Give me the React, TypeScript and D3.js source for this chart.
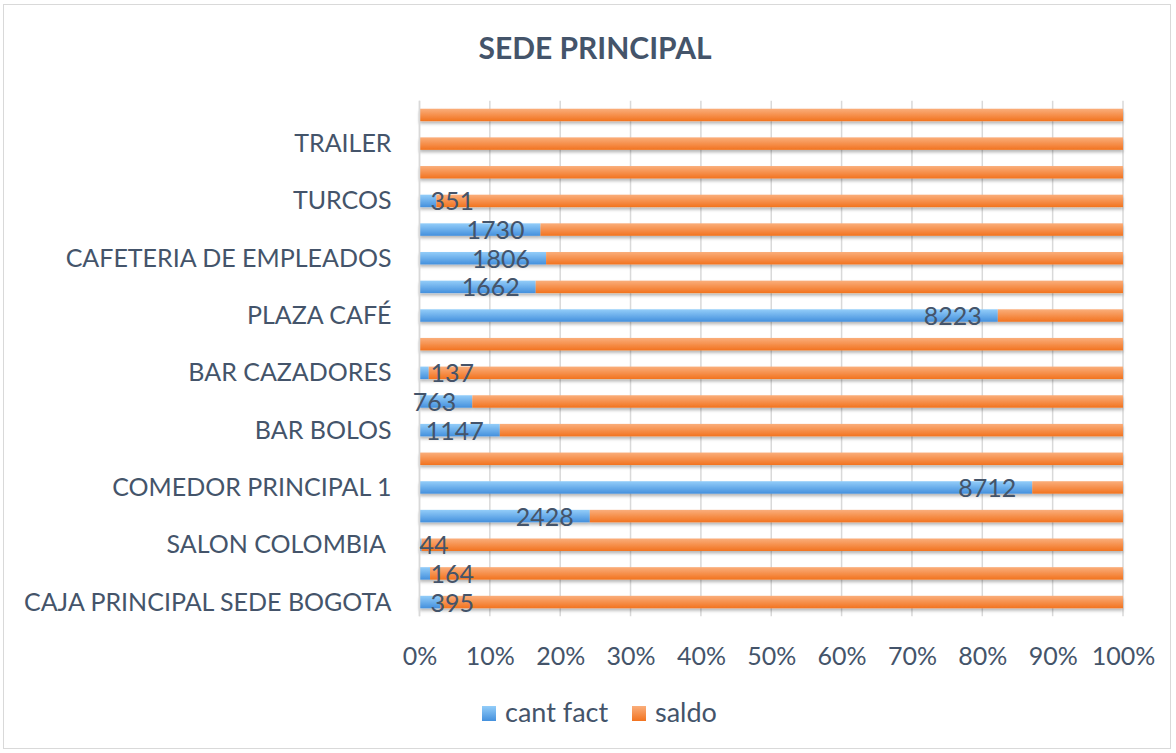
import React, { useEffect, useRef } from "react";
import * as d3 from "d3";

// rows listed bottom -> top; Excel shows every second category label
const categories: string[] = [
  "CAJA PRINCIPAL SEDE BOGOTA", "", "SALON COLOMBIA ", "", "COMEDOR PRINCIPAL 1", "",
  "BAR BOLOS", "", "BAR CAZADORES", "", "PLAZA CAFÉ", "",
  "CAFETERIA DE EMPLEADOS", "", "TURCOS", "", "TRAILER", "",
];
const cantFact: (number | null)[] = [
  395, 164, 44, 2428, 8712, null, 1147, 763, 137, null, 8223, 1662, 1806, 1730, 351, null, null, null,
];
const saldo: number[] = [
  12800, 10800, 14500, 7600, 1290, 9200, 8900, 9400, 10300, 8700, 1780, 8400, 8230, 8330, 14300, 9500, 7800, 8800,
];
const xTicks: number[] = [0, 0.1, 0.2, 0.3, 0.4, 0.5, 0.6, 0.7, 0.8, 0.9, 1];
const seriesNames: string[] = ["cant fact", "saldo"];
const title = "SEDE PRINCIPAL";

const W = 1176, H = 753;
const TXT = "#44546A";
const FONT = "Lato, 'Open Sans', sans-serif";

export default function App() {
  const ref = useRef<SVGSVGElement>(null);
  useEffect(() => {
    const svg = d3.select(ref.current);
    svg.selectAll("*").remove();

    const defs = svg.append("defs");
    const grad = (id: string, top: string, bot: string) => {
      const g = defs.append("linearGradient").attr("id", id).attr("x1", 0).attr("y1", 0).attr("x2", 0).attr("y2", 1);
      g.append("stop").attr("offset", "0%").attr("stop-color", top);
      g.append("stop").attr("offset", "100%").attr("stop-color", bot);
    };
    grad("gBlue", "#93CDF9", "#4490DD");
    grad("gOrange", "#FAAE7B", "#F2731F");
    const f = defs.append("filter").attr("id", "shadow").attr("x", "-5%").attr("y", "-50%").attr("width", "110%").attr("height", "220%");
    f.append("feDropShadow").attr("dx", 0).attr("dy", 2.5).attr("stdDeviation", 1.6)
      .attr("flood-color", "#000").attr("flood-opacity", 0.28);

    // frame
    svg.append("rect").attr("x", 3.5).attr("y", 4.5).attr("width", 1167).attr("height", 744)
      .attr("fill", "#fff").attr("stroke", "#D9D9D9").attr("stroke-width", 1);

    svg.append("text").attr("x", 595).attr("y", 59).attr("text-anchor", "middle")
      .attr("font-family", FONT).attr("font-weight", 700).attr("font-size", 30).attr("fill", TXT)
      .text(title);

    const x0 = 419.5, x1 = 1123, top = 100.7, bottom = 616.3;
    const x = d3.scaleLinear().domain([0, 1]).range([x0, x1]);
    const idx = categories.map((_, i) => String(i));
    const y = d3.scaleBand().domain(idx).range([bottom, top]).paddingInner(0.565).paddingOuter(0.28);

    // gridlines
    svg.append("g").selectAll("line").data(xTicks).join("line")
      .attr("x1", (d) => x(d)).attr("x2", (d) => x(d)).attr("y1", top).attr("y2", bottom)
      .attr("stroke", "#D9D9D9").attr("stroke-width", 1.5);

    const stackData = categories.map((_, i) => {
      const a = cantFact[i] ?? 0;
      const b = saldo[i];
      const t = a + b;
      return { key: String(i), cf: a / t, sd: b / t };
    });
    const stack = d3.stack<any>().keys(["cf", "sd"]);
    const series = stack(stackData);
    const fills = ["url(#gBlue)", "url(#gOrange)"];

    const bars = svg.append("g").attr("filter", "url(#shadow)");
    series.forEach((s, si) => {
      bars.append("g").selectAll("rect").data(s).join("rect")
        .attr("x", (d) => x(d[0]))
        .attr("width", (d) => Math.max(0, x(d[1]) - x(d[0])))
        .attr("y", (d) => y((d as any).data.key)!)
        .attr("height", y.bandwidth())
        .attr("fill", fills[si]);
    });

    // category labels (every second)
    const yAxis = d3.axisLeft(y).tickSize(0).tickPadding(0)
      .tickValues(idx.filter((_, i) => i % 2 === 0))
      .tickFormat((d) => categories[+d]);
    const ya = svg.append("g").attr("transform", `translate(${x0 - 28},0)`).call(yAxis);
    ya.select(".domain").remove();
    ya.selectAll("text").attr("font-family", FONT).attr("font-size", 25).attr("fill", TXT)
      .attr("dy", "0.34em").style("white-space", "pre");
    svg.append("line").attr("x1", x0).attr("x2", x0).attr("y1", top).attr("y2", bottom)
      .attr("stroke", "#D9D9D9").attr("stroke-width", 1.5);

    // x axis tick labels
    const xAxis = d3.axisBottom(x).tickValues(xTicks).tickSize(0).tickPadding(0).tickFormat(d3.format(".0%"));
    const xa = svg.append("g").attr("transform", `translate(0,${bottom + 49})`).call(xAxis);
    xa.select(".domain").remove();
    xa.selectAll("text").attr("font-family", FONT).attr("font-size", 25).attr("fill", TXT).attr("dy", 0);

    // data labels (cant fact) – inside end
    const lbl = svg.append("g");
    categories.forEach((_, i) => {
      const v = cantFact[i];
      if (v == null) return;
      const s = series[0][i];
      const end = x(s[1]);
      const cy = y(String(i))! + y.bandwidth() / 2 + 9.5;
      const t = lbl.append("text").attr("font-family", FONT).attr("font-size", 25).attr("fill", TXT).attr("y", cy).text(String(v));
      const w = (t.node() as SVGTextElement).getComputedTextLength();
      if (end - 16 - w > 400) t.attr("x", end - 16).attr("text-anchor", "end");
      else if (end - x0 < 3) t.attr("x", x0).attr("text-anchor", "start");
      else t.attr("x", x0 + 11).attr("text-anchor", "start");
    });

    // legend
    const colors = ["url(#gBlue)", "url(#gOrange)"];
    const lg = svg.append("g");
    const pos = [482, 632];
    seriesNames.forEach((n, i) => {
      lg.append("rect").attr("x", pos[i]).attr("y", 706).attr("width", 14).attr("height", 15).attr("fill", colors[i]);
      lg.append("text").attr("x", pos[i] + 23).attr("y", 722).attr("font-family", FONT).attr("font-size", 27)
        .attr("fill", TXT).text(n);
    });
  }, []);
  return (
    <svg ref={ref} width={W} height={H} style={{ position: "absolute", left: 0, top: 0, background: "#fff" }} />
  );
}
